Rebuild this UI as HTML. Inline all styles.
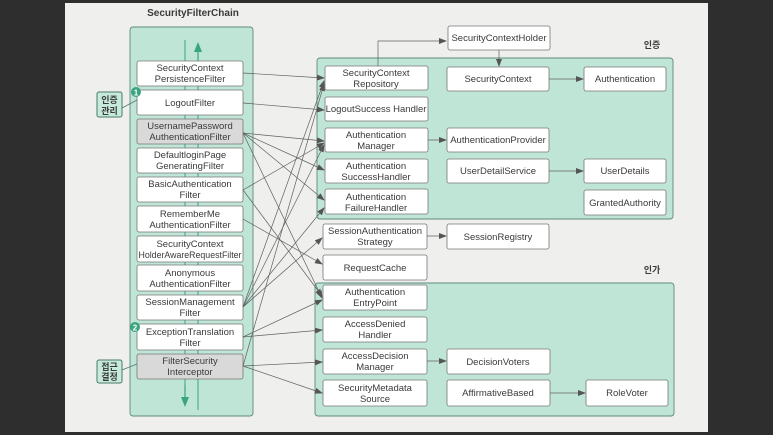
<!DOCTYPE html>
<html><head><meta charset="utf-8"><style>
html,body{margin:0;padding:0;width:773px;height:435px;overflow:hidden;background:#2e2e2e;}
svg{display:block;}
text{font-family:"Liberation Sans","Noto Sans CJK KR",sans-serif;fill:#3a3a3a;font-size:9.5px;text-anchor:middle;}
.b{fill:#fff;stroke:#777;stroke-width:0.8;}
.g{fill:#d9d9d9;stroke:#777;stroke-width:0.8;}
.c{fill:#bfe5d6;stroke:#5e8a7c;stroke-width:0.9;}
.l{stroke:#606060;stroke-width:0.7;fill:none;marker-end:url(#a);}
</style></head><body>
<svg width="773" height="435" viewBox="0 0 773 435">
<defs><marker id="a" markerWidth="8" markerHeight="6" refX="7" refY="3" orient="auto" markerUnits="userSpaceOnUse"><path d="M0,0 L8,3 L0,6 z" fill="#555"/></marker>
<marker id="ag" markerWidth="10" markerHeight="8" refX="5" refY="4" orient="auto" markerUnits="userSpaceOnUse"><path d="M0,0 L10,4 L0,8 z" fill="#3aa37f"/></marker></defs>
<rect x="65" y="3" width="643" height="429" fill="#efefed"/>
<text x="193" y="16" style="font-weight:bold;font-size:10px">SecurityFilterChain</text>
<rect class="c" x="130" y="27" width="123" height="389" rx="3"/>
<line x1="185" y1="40" x2="185" y2="405" stroke="#3aa37f" stroke-width="1"/>
<line x1="198" y1="60" x2="198" y2="410" stroke="#3aa37f" stroke-width="1"/>
<line x1="198" y1="60" x2="198" y2="47" stroke="#3aa37f" stroke-width="1.2" marker-end="url(#ag)"/>
<line x1="185" y1="385" x2="185" y2="402" stroke="#3aa37f" stroke-width="1.2" marker-end="url(#ag)"/>

<rect class="b" x="137" y="61" width="106" height="25" rx="2"/><text x="190" y="71">SecurityContext</text><text x="190" y="82">PersistenceFilter</text>
<rect class="b" x="137" y="90" width="106" height="25" rx="2"/><text x="190" y="106">LogoutFilter</text>
<rect class="g" x="137" y="119" width="106" height="25" rx="2"/><text x="190" y="129">UsernamePassword</text><text x="190" y="140">AuthenticationFilter</text>
<rect class="b" x="137" y="148" width="106" height="25" rx="2"/><text x="190" y="158">DefaultloginPage</text><text x="190" y="169">GeneratingFilter</text>
<rect class="b" x="137" y="177" width="106" height="25" rx="2"/><text x="190" y="187">BasicAuthentication</text><text x="190" y="198">Filter</text>
<rect class="b" x="137" y="206" width="106" height="26" rx="2"/><text x="190" y="217">RememberMe</text><text x="190" y="228">AuthenticationFilter</text>
<rect class="b" x="137" y="236" width="106" height="26" rx="2"/><text x="190" y="247">SecurityContext</text><text x="190" y="258" style="font-size:8.8px">HolderAwareRequestFilter</text>
<rect class="b" x="137" y="265" width="106" height="26" rx="2"/><text x="190" y="276">Anonymous</text><text x="190" y="287">AuthenticationFilter</text>
<rect class="b" x="137" y="295" width="106" height="25" rx="2"/><text x="190" y="305">SessionManagement</text><text x="190" y="316">Filter</text>
<rect class="b" x="137" y="324" width="106" height="26" rx="2"/><text x="190" y="335">ExceptionTranslation</text><text x="190" y="346">Filter</text>
<rect class="g" x="137" y="354" width="106" height="25" rx="2"/><text x="190" y="364">FilterSecurity</text><text x="190" y="375">Interceptor</text>

<rect x="97" y="92" width="25" height="25" rx="2" fill="#c6ebdc" stroke="#4a7a6a"/><text x="109.5" y="103" style="font-weight:bold;font-size:9px">인증</text><text x="109.5" y="114" style="font-weight:bold;font-size:9px">관리</text>
<line x1="122" y1="108" x2="137" y2="100" stroke="#4a7a6a" stroke-width="0.8"/>
<circle cx="136" cy="92" r="5" fill="#3aa37f"/><text x="136" y="95.5" style="fill:#fff;font-size:8px;font-weight:bold">1</text>
<rect x="97" y="360" width="25" height="23" rx="2" fill="#c6ebdc" stroke="#4a7a6a"/><text x="109.5" y="370" style="font-weight:bold;font-size:9px">접근</text><text x="109.5" y="380" style="font-weight:bold;font-size:9px">결정</text>
<line x1="122" y1="370" x2="137" y2="364" stroke="#4a7a6a" stroke-width="0.8"/>
<circle cx="135" cy="327" r="5" fill="#3aa37f"/><text x="135" y="330.5" style="fill:#fff;font-size:8px;font-weight:bold">2</text>

<text x="652" y="48" style="font-size:9px;font-weight:bold">인증</text>
<rect class="c" x="317" y="58" width="356" height="161" rx="3"/>
<text x="652" y="273" style="font-size:9px;font-weight:bold">인가</text>
<rect class="c" x="315" y="283" width="359" height="133" rx="3"/>

<rect class="b" x="448" y="26" width="102" height="24" rx="2"/><text x="499" y="41">SecurityContextHolder</text>
<rect class="b" x="325" y="66" width="103" height="24" rx="2"/><text x="376" y="76">SecurityContext</text><text x="376" y="87">Repository</text>
<rect class="b" x="325" y="97" width="103" height="24" rx="2"/><text x="376" y="112">LogoutSuccess Handler</text>
<rect class="b" x="325" y="128" width="103" height="24" rx="2"/><text x="376" y="138">Authentication</text><text x="376" y="149">Manager</text>
<rect class="b" x="325" y="159" width="103" height="24" rx="2"/><text x="376" y="169">Authentication</text><text x="376" y="180">SuccessHandler</text>
<rect class="b" x="325" y="189" width="103" height="25" rx="2"/><text x="376" y="200">Authentication</text><text x="376" y="211">FailureHandler</text>
<rect class="b" x="447" y="67" width="102" height="24" rx="2"/><text x="498" y="82">SecurityContext</text>
<rect class="b" x="447" y="128" width="102" height="24" rx="2"/><text x="498" y="143">AuthenticationProvider</text>
<rect class="b" x="447" y="159" width="102" height="24" rx="2"/><text x="498" y="174">UserDetailService</text>
<rect class="b" x="584" y="67" width="82" height="24" rx="2"/><text x="625" y="82">Authentication</text>
<rect class="b" x="584" y="159" width="82" height="24" rx="2"/><text x="625" y="174">UserDetails</text>
<rect class="b" x="584" y="190" width="82" height="25" rx="2"/><text x="625" y="206">GrantedAuthority</text>

<rect class="b" x="323" y="224" width="104" height="25" rx="2"/><text x="375" y="234">SessionAuthentication</text><text x="375" y="245">Strategy</text>
<rect class="b" x="447" y="224" width="102" height="25" rx="2"/><text x="498" y="240">SessionRegistry</text>
<rect class="b" x="323" y="255" width="104" height="25" rx="2"/><text x="375" y="271">RequestCache</text>
<rect class="b" x="323" y="285" width="104" height="25" rx="2"/><text x="375" y="295">Authentication</text><text x="375" y="306">EntryPoint</text>
<rect class="b" x="323" y="317" width="104" height="25" rx="2"/><text x="375" y="327">AccessDenied</text><text x="375" y="338">Handler</text>
<rect class="b" x="323" y="349" width="104" height="25" rx="2"/><text x="375" y="359">AccessDecision</text><text x="375" y="370">Manager</text>
<rect class="b" x="323" y="380" width="104" height="26" rx="2"/><text x="375" y="391">SecurityMetadata</text><text x="375" y="402">Source</text>
<rect class="b" x="447" y="349" width="103" height="25" rx="2"/><text x="498" y="365">DecisionVoters</text>
<rect class="b" x="447" y="380" width="103" height="26" rx="2"/><text x="498" y="396">AffirmativeBased</text>
<rect class="b" x="586" y="380" width="82" height="26" rx="2"/><text x="627" y="396">RoleVoter</text>

<path class="l" d="M378,66 L378,41 L446,41"/>
<line class="l" x1="499" y1="50" x2="499" y2="66"/>
<line class="l" x1="549" y1="79" x2="583" y2="79"/>
<line class="l" x1="428" y1="140" x2="446" y2="140"/>
<line class="l" x1="549" y1="171" x2="583" y2="171"/>
<line class="l" x1="427" y1="236" x2="446" y2="236"/>
<line class="l" x1="427" y1="361" x2="446" y2="361"/>
<line class="l" x1="550" y1="393" x2="585" y2="393"/>

<line class="l" x1="243" y1="73" x2="324" y2="78"/>
<line class="l" x1="243" y1="103" x2="324" y2="110"/>
<line class="l" x1="243" y1="133" x2="324" y2="141"/>
<line class="l" x1="243" y1="133" x2="324" y2="170"/>
<line class="l" x1="243" y1="133" x2="324" y2="200"/>
<line class="l" x1="243" y1="133" x2="322" y2="298"/>
<line class="l" x1="243" y1="190" x2="324" y2="143"/>
<line class="l" x1="243" y1="190" x2="322" y2="296"/>
<line class="l" x1="243" y1="219" x2="322" y2="264"/>
<line class="l" x1="243" y1="307" x2="324" y2="81"/>
<line class="l" x1="243" y1="307" x2="324" y2="145"/>
<line class="l" x1="243" y1="307" x2="324" y2="208"/>
<line class="l" x1="243" y1="307" x2="322" y2="238"/>
<line class="l" x1="243" y1="337" x2="322" y2="300"/>
<line class="l" x1="243" y1="337" x2="322" y2="330"/>
<line class="l" x1="243" y1="366" x2="324" y2="84"/>
<line class="l" x1="243" y1="366" x2="322" y2="362"/>
<line class="l" x1="243" y1="366" x2="322" y2="393"/>
</svg>
</body></html>
